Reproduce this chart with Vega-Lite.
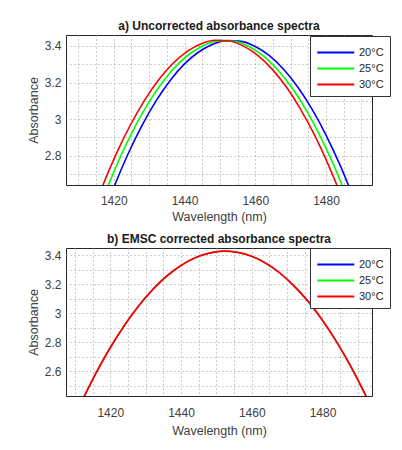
{
  "$schema": "https://vega.github.io/schema/vega-lite/v6.json",
  "background": "white",
  "padding": {"left": 26, "top": 19, "right": 5, "bottom": 5},
  "spacing": 9,
  "config": {
    "font": "Liberation Sans",
    "view": {"stroke": "#262626", "strokeWidth": 1},
    "axis": {
      "domain": false, "ticks": false, "grid": true,
      "gridDash": [1, 3], "gridColor": "#9a9a9a", "gridWidth": 1,
      "labelFont": "Liberation Sans", "labelFontSize": 12, "labelColor": "#404040",
      "titleFont": "Liberation Sans", "titleFontSize": 12.5, "titleFontWeight": "normal", "titleColor": "#404040"
    },
    "title": {"font": "Liberation Sans", "fontSize": 12, "fontWeight": "bold", "color": "#1a1a1a", "offset": 2},
    "legend": {
      "orient": "none", "title": null, "symbolType": "M-1,0H3", "symbolSize": 342, "symbolStrokeWidth": 2,
      "labelFont": "Liberation Sans", "labelFontSize": 11, "labelColor": "#262626",
      "strokeColor": "#333333", "fillColor": "white", "padding": 6, "labelOffset": 22, "rowPadding": 0
    }
  },
  "datasets": {
    "p1": [
      {"wl": 1416, "abs": 2.421, "temp": "20°C"}, {"wl": 1420, "abs": 2.626, "temp": "20°C"}, {"wl": 1424, "abs": 2.808, "temp": "20°C"},
      {"wl": 1428, "abs": 2.966, "temp": "20°C"}, {"wl": 1432, "abs": 3.101, "temp": "20°C"}, {"wl": 1436, "abs": 3.213, "temp": "20°C"},
      {"wl": 1440, "abs": 3.302, "temp": "20°C"}, {"wl": 1444, "abs": 3.367, "temp": "20°C"}, {"wl": 1448, "abs": 3.410, "temp": "20°C"},
      {"wl": 1452, "abs": 3.429, "temp": "20°C"}, {"wl": 1456, "abs": 3.425, "temp": "20°C"}, {"wl": 1460, "abs": 3.397, "temp": "20°C"},
      {"wl": 1464, "abs": 3.347, "temp": "20°C"}, {"wl": 1468, "abs": 3.273, "temp": "20°C"}, {"wl": 1472, "abs": 3.176, "temp": "20°C"},
      {"wl": 1476, "abs": 3.056, "temp": "20°C"}, {"wl": 1480, "abs": 2.913, "temp": "20°C"}, {"wl": 1484, "abs": 2.747, "temp": "20°C"},
      {"wl": 1488, "abs": 2.557, "temp": "20°C"}, {"wl": 1492, "abs": 2.344, "temp": "20°C"},

      {"wl": 1414.2, "abs": 2.421, "temp": "25°C"}, {"wl": 1418.2, "abs": 2.626, "temp": "25°C"}, {"wl": 1422.2, "abs": 2.808, "temp": "25°C"},
      {"wl": 1426.2, "abs": 2.966, "temp": "25°C"}, {"wl": 1430.2, "abs": 3.101, "temp": "25°C"}, {"wl": 1434.2, "abs": 3.213, "temp": "25°C"},
      {"wl": 1438.2, "abs": 3.302, "temp": "25°C"}, {"wl": 1442.2, "abs": 3.367, "temp": "25°C"}, {"wl": 1446.2, "abs": 3.410, "temp": "25°C"},
      {"wl": 1450.2, "abs": 3.429, "temp": "25°C"}, {"wl": 1454.2, "abs": 3.425, "temp": "25°C"}, {"wl": 1458.2, "abs": 3.397, "temp": "25°C"},
      {"wl": 1462.2, "abs": 3.347, "temp": "25°C"}, {"wl": 1466.2, "abs": 3.273, "temp": "25°C"}, {"wl": 1470.2, "abs": 3.176, "temp": "25°C"},
      {"wl": 1474.2, "abs": 3.056, "temp": "25°C"}, {"wl": 1478.2, "abs": 2.913, "temp": "25°C"}, {"wl": 1482.2, "abs": 2.747, "temp": "25°C"},
      {"wl": 1486.2, "abs": 2.557, "temp": "25°C"}, {"wl": 1490.2, "abs": 2.344, "temp": "25°C"},

      {"wl": 1412.7, "abs": 2.423, "temp": "30°C"}, {"wl": 1416.7, "abs": 2.628, "temp": "30°C"}, {"wl": 1420.7, "abs": 2.810, "temp": "30°C"},
      {"wl": 1424.7, "abs": 2.968, "temp": "30°C"}, {"wl": 1428.7, "abs": 3.103, "temp": "30°C"}, {"wl": 1432.7, "abs": 3.215, "temp": "30°C"},
      {"wl": 1436.7, "abs": 3.304, "temp": "30°C"}, {"wl": 1440.7, "abs": 3.369, "temp": "30°C"}, {"wl": 1444.7, "abs": 3.412, "temp": "30°C"},
      {"wl": 1448.7, "abs": 3.431, "temp": "30°C"}, {"wl": 1452.7, "abs": 3.427, "temp": "30°C"}, {"wl": 1456.7, "abs": 3.399, "temp": "30°C"},
      {"wl": 1460.7, "abs": 3.349, "temp": "30°C"}, {"wl": 1464.7, "abs": 3.275, "temp": "30°C"}, {"wl": 1468.7, "abs": 3.178, "temp": "30°C"},
      {"wl": 1472.7, "abs": 3.058, "temp": "30°C"}, {"wl": 1476.7, "abs": 2.915, "temp": "30°C"}, {"wl": 1480.7, "abs": 2.749, "temp": "30°C"},
      {"wl": 1484.7, "abs": 2.559, "temp": "30°C"}, {"wl": 1488.7, "abs": 2.346, "temp": "30°C"}
    ],
    "p2": [
      {"wl": 1412, "abs": 2.395, "temp": "20°C"}, {"wl": 1416, "abs": 2.589, "temp": "20°C"}, {"wl": 1420, "abs": 2.763, "temp": "20°C"},
      {"wl": 1424, "abs": 2.916, "temp": "20°C"}, {"wl": 1428, "abs": 3.050, "temp": "20°C"}, {"wl": 1432, "abs": 3.163, "temp": "20°C"},
      {"wl": 1436, "abs": 3.257, "temp": "20°C"}, {"wl": 1440, "abs": 3.330, "temp": "20°C"}, {"wl": 1444, "abs": 3.383, "temp": "20°C"},
      {"wl": 1448, "abs": 3.415, "temp": "20°C"}, {"wl": 1452, "abs": 3.428, "temp": "20°C"}, {"wl": 1456, "abs": 3.420, "temp": "20°C"},
      {"wl": 1460, "abs": 3.393, "temp": "20°C"}, {"wl": 1464, "abs": 3.345, "temp": "20°C"}, {"wl": 1468, "abs": 3.277, "temp": "20°C"},
      {"wl": 1472, "abs": 3.188, "temp": "20°C"}, {"wl": 1476, "abs": 3.080, "temp": "20°C"}, {"wl": 1480, "abs": 2.952, "temp": "20°C"},
      {"wl": 1484, "abs": 2.803, "temp": "20°C"}, {"wl": 1488, "abs": 2.634, "temp": "20°C"}, {"wl": 1492, "abs": 2.445, "temp": "20°C"},
      {"wl": 1496, "abs": 2.236, "temp": "20°C"},

      {"wl": 1412, "abs": 2.395, "temp": "25°C"}, {"wl": 1416, "abs": 2.589, "temp": "25°C"}, {"wl": 1420, "abs": 2.763, "temp": "25°C"},
      {"wl": 1424, "abs": 2.916, "temp": "25°C"}, {"wl": 1428, "abs": 3.050, "temp": "25°C"}, {"wl": 1432, "abs": 3.163, "temp": "25°C"},
      {"wl": 1436, "abs": 3.257, "temp": "25°C"}, {"wl": 1440, "abs": 3.330, "temp": "25°C"}, {"wl": 1444, "abs": 3.383, "temp": "25°C"},
      {"wl": 1448, "abs": 3.415, "temp": "25°C"}, {"wl": 1452, "abs": 3.428, "temp": "25°C"}, {"wl": 1456, "abs": 3.420, "temp": "25°C"},
      {"wl": 1460, "abs": 3.393, "temp": "25°C"}, {"wl": 1464, "abs": 3.345, "temp": "25°C"}, {"wl": 1468, "abs": 3.277, "temp": "25°C"},
      {"wl": 1472, "abs": 3.188, "temp": "25°C"}, {"wl": 1476, "abs": 3.080, "temp": "25°C"}, {"wl": 1480, "abs": 2.952, "temp": "25°C"},
      {"wl": 1484, "abs": 2.803, "temp": "25°C"}, {"wl": 1488, "abs": 2.634, "temp": "25°C"}, {"wl": 1492, "abs": 2.445, "temp": "25°C"},
      {"wl": 1496, "abs": 2.236, "temp": "25°C"},

      {"wl": 1412, "abs": 2.395, "temp": "30°C"}, {"wl": 1416, "abs": 2.589, "temp": "30°C"}, {"wl": 1420, "abs": 2.763, "temp": "30°C"},
      {"wl": 1424, "abs": 2.916, "temp": "30°C"}, {"wl": 1428, "abs": 3.050, "temp": "30°C"}, {"wl": 1432, "abs": 3.163, "temp": "30°C"},
      {"wl": 1436, "abs": 3.257, "temp": "30°C"}, {"wl": 1440, "abs": 3.330, "temp": "30°C"}, {"wl": 1444, "abs": 3.383, "temp": "30°C"},
      {"wl": 1448, "abs": 3.415, "temp": "30°C"}, {"wl": 1452, "abs": 3.428, "temp": "30°C"}, {"wl": 1456, "abs": 3.420, "temp": "30°C"},
      {"wl": 1460, "abs": 3.393, "temp": "30°C"}, {"wl": 1464, "abs": 3.345, "temp": "30°C"}, {"wl": 1468, "abs": 3.277, "temp": "30°C"},
      {"wl": 1472, "abs": 3.188, "temp": "30°C"}, {"wl": 1476, "abs": 3.080, "temp": "30°C"}, {"wl": 1480, "abs": 2.952, "temp": "30°C"},
      {"wl": 1484, "abs": 2.803, "temp": "30°C"}, {"wl": 1488, "abs": 2.634, "temp": "30°C"}, {"wl": 1492, "abs": 2.445, "temp": "30°C"},
      {"wl": 1496, "abs": 2.236, "temp": "30°C"}
    ]
  },
  "vconcat": [
    {
      "title": "a) Uncorrected absorbance spectra",
      "width": 306, "height": 150,
      "data": {"name": "p1"},
      "mark": {"type": "line", "clip": true, "interpolate": "monotone", "strokeWidth": 1.6},
      "encoding": {
        "x": {"field": "wl", "type": "quantitative", "title": "Wavelength (nm)",
              "scale": {"domain": [1406.5, 1493], "nice": false, "zero": false},
              "axis": {"values": [1410,1415,1420,1425,1430,1435,1440,1445,1450,1455,1460,1465,1470,1475,1480,1485,1490],
                       "format": "d", "labelExpr": "datum.value % 20 == 0 ? datum.label : ''", "labelPadding": 10, "titlePadding": 4, "labelOverlap": false}},
        "y": {"field": "abs", "type": "quantitative", "title": "Absorbance",
              "scale": {"domain": [2.64, 3.46], "nice": false, "zero": false},
              "axis": {"values": [2.7,2.8,2.9,3.0,3.1,3.2,3.3,3.4],
                       "labelExpr": "round(datum.value*10) % 2 == 0 ? format(datum.value, '~g') : ''", "labelPadding": 5, "titlePadding": 4, "labelOverlap": false}},
        "color": {"field": "temp", "type": "nominal",
                  "scale": {"domain": ["20°C", "25°C", "30°C"], "range": ["#0000ff", "#00ff00", "#ff0000"]},
                  "legend": {"legendX": 244, "legendY": 1}}
      }
    },
    {
      "title": "b) EMSC corrected absorbance spectra",
      "width": 306, "height": 148,
      "data": {"name": "p2"},
      "encoding": {
        "x": {"field": "wl", "type": "quantitative", "title": "Wavelength (nm)",
              "scale": {"domain": [1407.5, 1494], "nice": false, "zero": false},
              "axis": {"values": [1410,1415,1420,1425,1430,1435,1440,1445,1450,1455,1460,1465,1470,1475,1480,1485,1490],
                       "format": "d", "labelExpr": "datum.value % 20 == 0 ? datum.label : ''", "labelPadding": 11, "titlePadding": 6, "labelOverlap": false}},
        "y": {"field": "abs", "type": "quantitative", "title": "Absorbance",
              "scale": {"domain": [2.43, 3.45], "nice": false, "zero": false},
              "axis": {"values": [2.5,2.6,2.7,2.8,2.9,3.0,3.1,3.2,3.3,3.4],
                       "labelExpr": "round(datum.value*10) % 2 == 0 ? format(datum.value, '~g') : ''", "labelPadding": 5, "titlePadding": 4, "labelOverlap": false}},
        "color": {"field": "temp", "type": "nominal",
                  "scale": {"domain": ["20°C", "25°C", "30°C"], "range": ["#0000ff", "#00ff00", "#ff0000"]},
                  "legend": {"legendX": 244, "legendY": 0}}
      },
      "layer": [
        {"transform": [{"filter": "datum.temp != '30°C'"}],
         "mark": {"type": "line", "clip": true, "interpolate": "monotone", "strokeWidth": 1.2}},
        {"transform": [{"filter": "datum.temp == '30°C'"}],
         "mark": {"type": "line", "clip": true, "interpolate": "monotone", "strokeWidth": 1.8}}
      ]
    }
  ],
  "resolve": {"scale": {"x": "independent", "y": "independent", "color": "independent"}}
}
